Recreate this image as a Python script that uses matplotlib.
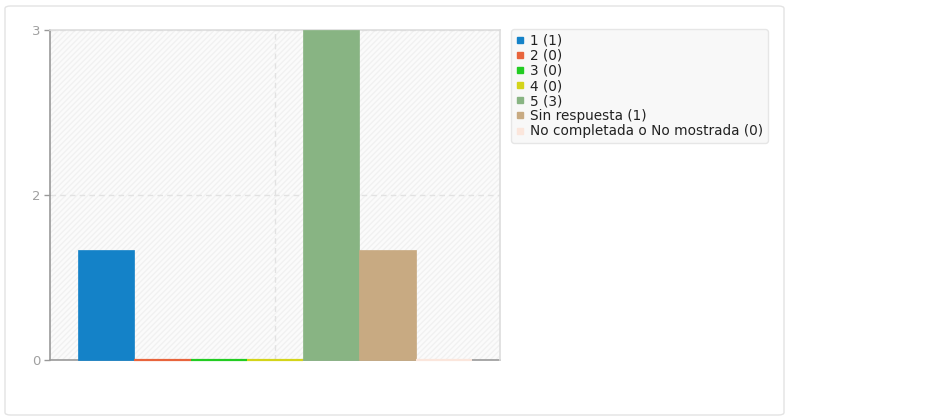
import matplotlib.pyplot as plt
from matplotlib.patches import FancyBboxPatch
from matplotlib.lines import Line2D

# answer options and counts
labels = ["1", "2", "3", "4", "5", "Sin respuesta", "No completada o No mostrada"]
counts = [1, 0, 0, 0, 3, 1, 0]
colors = ["#1482c8", "#e8643c", "#22cc22", "#d4d41a", "#88b483", "#c8aa82", "#fbe6dc"]
ytick_pos = [0, 1.5, 3]
ytick_labels = ["0", "2", "3"]

W, H = 949, 420
fig = plt.figure(figsize=(W / 100, H / 100), dpi=100)
fig.patch.set_facecolor("white")

# outer card
card = FancyBboxPatch((5 / W, 5 / H), 779 / W, 409 / H,
                      boxstyle="round,pad=0,rounding_size=0.006",
                      transform=fig.transFigure, facecolor="none",
                      edgecolor="#e3e3e3", linewidth=1.0, zorder=-10)
fig.patches.append(card)

ax = fig.add_axes([50 / W, 60 / H, 450 / W, 330 / H])
ax.set_facecolor("#fbfbfb")
ax.patch.set_hatch("//////")
ax.patch.set_edgecolor("#f1f1f1")
ax.patch.set_linewidth(0)

# zero-count bars show up as a thin coloured line on the axis
for i, (v, c) in enumerate(zip(counts, colors)):
    ax.bar(i, v, width=1.0, color=c, edgecolor=c,
           linewidth=1.6 if v == 0 else 0.5, zorder=3, clip_on=False)

ax.set_xlim(-1, 7)
ax.set_ylim(0, 3)
ax.set_xticks([3])
ax.set_xticklabels([""])
ax.set_yticks(ytick_pos)
ax.set_yticklabels(ytick_labels)
ax.tick_params(axis="x", length=0)
ax.tick_params(axis="y", colors="#999999", labelcolor="#a0a0a0", labelsize=9.5, length=4, width=1, pad=3)
ax.grid(True, color="#e2e2e2", linestyle=(0, (4, 3)), linewidth=1, zorder=1)
ax.set_axisbelow(True)

for s in ["left", "bottom"]:
    ax.spines[s].set_color("#999999")
    ax.spines[s].set_linewidth(1.2)
for s in ["top", "right"]:
    ax.spines[s].set_color("#dddddd")
    ax.spines[s].set_linewidth(1.2)
ax.spines["bottom"].set_zorder(2)

handles = [Line2D([], [], marker="s", linestyle="none", markersize=4.5,
                  markerfacecolor=c, markeredgecolor=c) for c in colors]
leg_labels = [f"{l} ({v})" for l, v in zip(labels, counts)]
leg = fig.legend(handles, leg_labels, loc="upper left",
                 bbox_to_anchor=(511 / W, 1 - 29 / H), fontsize=9.8,
                 frameon=True, fancybox=True, shadow=False,
                 handlelength=0.6, handletextpad=0.45, labelspacing=0.08,
                 borderpad=0.35, borderaxespad=0)
frame = leg.get_frame()
frame.set_facecolor("#f8f8f8")
frame.set_edgecolor("#e6e6e6")
frame.set_alpha(1)
for t in leg.get_texts():
    t.set_color("#222222")

fig.savefig("out.png", dpi=100)
